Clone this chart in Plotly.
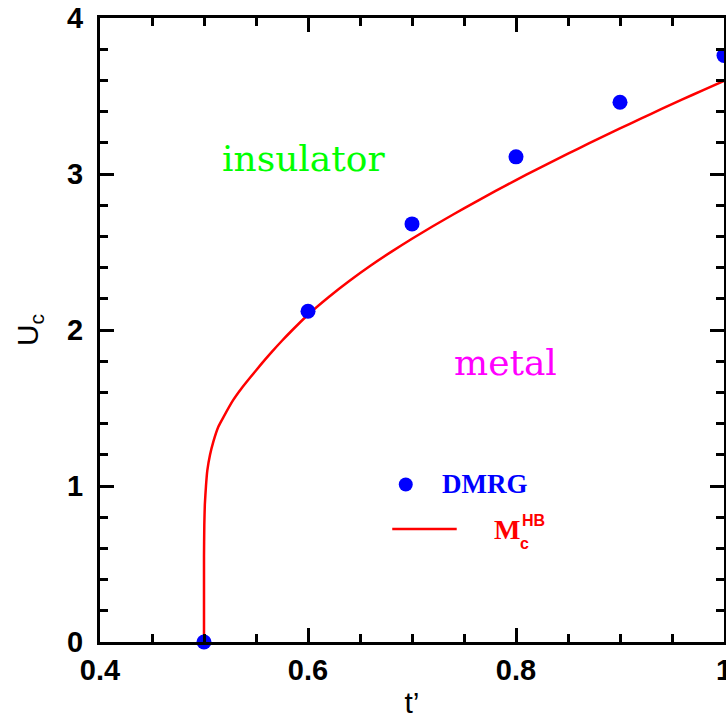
import plotly.graph_objects as go

# DMRG data
dmrg_t = [0.5, 0.6, 0.7, 0.8, 0.9, 1.0]
dmrg_u = [0.0, 2.12, 2.68, 3.11, 3.46, 3.76]

# M_c^HB curve
hb_t = [0.5, 0.5, 0.5003, 0.5008, 0.5019, 0.5032, 0.5058, 0.509, 0.5138, 0.5186, 0.528,
        0.536, 0.545, 0.555, 0.565, 0.575, 0.585, 0.60, 0.62, 0.64, 0.66, 0.68, 0.70,
        0.72, 0.74, 0.76, 0.78, 0.80, 0.82, 0.84, 0.86, 0.88, 0.90, 0.92, 0.94, 0.96,
        0.98, 1.0]
hb_u = [0.0, 0.55, 0.75, 0.88, 1.0, 1.10, 1.20, 1.285, 1.38, 1.44, 1.55,
        1.625, 1.700, 1.781, 1.858, 1.931, 2.000, 2.098, 2.212, 2.316, 2.412, 2.501, 2.585,
        2.665, 2.742, 2.817, 2.890, 2.961, 3.030, 3.097, 3.163, 3.228, 3.292, 3.355, 3.417,
        3.478, 3.538, 3.597]

x_ticks = [0.4, 0.6, 0.8, 1.0]
x_ticklabels = ["0.4", "0.6", "0.8", "1"]
y_ticks = [0, 1, 2, 3, 4]
y_ticklabels = ["0", "1", "2", "3", "4"]

# legend sample positions (data coords)
leg_dot_t = [0.694]
leg_dot_u = [1.01]
leg_line_t = [0.681, 0.743]
leg_line_u = [0.724, 0.724]

fig = go.Figure()
fig.add_trace(go.Scatter(x=hb_t, y=hb_u, mode="lines",
                         line=dict(color="#ff0000", width=2.5, shape="spline", smoothing=0.5),
                         showlegend=False))
fig.add_trace(go.Scatter(x=dmrg_t, y=dmrg_u, mode="markers",
                         marker=dict(color="#0000ff", size=15),
                         showlegend=False, cliponaxis=False))
fig.add_trace(go.Scatter(x=leg_dot_t, y=leg_dot_u, mode="markers",
                         marker=dict(color="#0000ff", size=14), showlegend=False))
fig.add_trace(go.Scatter(x=leg_line_t, y=leg_line_u, mode="lines",
                         line=dict(color="#ff0000", width=2.5), showlegend=False))

serif = "DejaVu Serif"
fig.add_annotation(x=0.5, y=3.1, xref="x", yref="y", text="insulator", showarrow=False,
                   font=dict(family=serif, size=36, color="#00ff00"), xanchor="left", yanchor="middle",
                   xshift=16)
fig.add_annotation(x=0.75, y=1.79, xref="x", yref="y", text="metal", showarrow=False,
                   font=dict(family=serif, size=36, color="#ff00ff"), xanchor="left", yanchor="middle",
                   xshift=-12)
fig.add_annotation(x=0.7265, y=1.01, xref="x", yref="y", text="<b>DMRG</b>", showarrow=False,
                   font=dict(family="Liberation Serif", size=27, color="#0000ff"), xanchor="left",
                   yanchor="middle")
fig.add_annotation(x=0.7765, y=0.72, xref="x", yref="y", text="<b>M</b>", showarrow=False,
                   font=dict(family="Liberation Serif", size=28, color="#ff0000"), xanchor="left",
                   yanchor="middle")
fig.add_annotation(x=0.8035, y=0.78, xref="x", yref="y", text="<b>HB</b>", showarrow=False,
                   font=dict(family="Liberation Sans", size=16, color="#ff0000"), xanchor="left",
                   yanchor="middle")
fig.add_annotation(x=0.8015, y=0.63, xref="x", yref="y", text="<b>c</b>", showarrow=False,
                   font=dict(family="Liberation Sans", size=16, color="#ff0000"), xanchor="left",
                   yanchor="middle")

axis_common = dict(showline=True, linecolor="black", linewidth=3, mirror="allticks",
                   ticks="inside", tickcolor="black", tickwidth=2.5, ticklen=14,
                   showgrid=False, zeroline=False, ticklabeloverflow="allow", automargin=False,
                   tickfont=dict(family="Liberation Sans", size=29, color="black", weight="bold"))

fig.update_xaxes(range=[0.4, 1.0], tickvals=x_ticks, ticktext=x_ticklabels,
                 minor=dict(ticks="inside", dtick=0.05, ticklen=8, tickwidth=2.5, tickcolor="black"),
                 title=dict(text="t’", font=dict(family="Liberation Sans", size=30, color="black"),
                            standoff=12),
                 **axis_common)
fig.update_yaxes(range=[0, 4], tickvals=y_ticks, ticktext=y_ticklabels, ticklabelstandoff=8,
                 minor=dict(ticks="inside", dtick=0.2, ticklen=8, tickwidth=2.5, tickcolor="black"),
                 title=dict(text="U<sub>c</sub>", font=dict(family="Liberation Sans", size=30, color="black"),
                            standoff=20),
                 **axis_common)

fig.update_layout(width=726, height=719, margin=dict(l=100, r=2, t=18, b=77, autoexpand=False),
                  plot_bgcolor="white", paper_bgcolor="white")

fig.write_html("out.html")
